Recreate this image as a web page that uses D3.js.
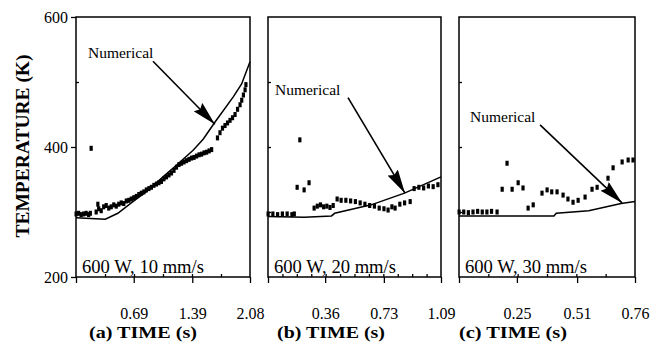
<!DOCTYPE html>
<html lang="en">
<head>
    <meta charset="UTF-8">
    <title>Temperature vs time</title>
    <script src="https://cdn.jsdelivr.net/npm/d3@7"></script>
    <style>
        body { margin: 0; background: #fff; }
        svg text { font-family: "Liberation Serif", "Times New Roman", serif; }
        .axis path { display: none; }
        .axis line { stroke: #000; stroke-width: 1.3; }
        .axis text { font-size: 16px; fill: #000; }
    </style>
</head>
<body>
    <script>
        var serif = "Liberation Serif, Times New Roman, serif";

        // temperature axis
        var tempTicks = [200, 400, 600];
        var tempMinor = [300, 500];

        // time tick labels per panel
        var timeTicksA = [0.69, 1.39, 2.08];
        var timeTicksB = [0.36, 0.73, 1.09];
        var timeTicksC = [0.25, 0.51, 0.76];

        var conditions = ["600 W, 10 mm/s", "600 W, 20 mm/s", "600 W, 30 mm/s"];
        var xTitles = ["(a) TIME (s)", "(b) TIME (s)", "(c) TIME (s)"];

        // numerical curves [time, K]
        var numA = [[0, 291], [0.35, 289], [0.5, 298], [0.68, 316], [0.85, 332], [1.04, 354], [1.2, 372],
            [1.4, 395], [1.52, 412], [1.66, 438], [1.88, 477], [1.98, 497], [2.08, 531]];
        var numB = [[0, 293], [0.23, 292], [0.40, 294], [0.42, 298], [0.65, 311], [0.86, 329], [1.09, 354]];
        var numC = [[0, 294], [0.41, 294], [0.42, 298], [0.56, 302], [0.70, 313], [0.76, 316]];

        // experimental points [time, K]
        var expA = [[0.0, 297], [0.03, 298], [0.06, 296], [0.09, 297], [0.12, 298], [0.15, 296], [0.17, 298],
            [0.18, 398],
            [0.24, 300], [0.26, 312], [0.27, 305], [0.30, 302], [0.33, 308], [0.36, 310], [0.39, 306], [0.42, 308],
            [0.45, 311], [0.48, 309], [0.51, 312], [0.54, 314], [0.57, 313], [0.60, 317], [0.63, 318], [0.66, 320],
            [0.69, 322], [0.72, 324], [0.75, 327], [0.78, 329], [0.81, 331], [0.84, 334], [0.87, 336], [0.90, 338],
            [0.93, 341], [0.96, 343], [0.99, 345], [1.02, 347], [1.05, 351], [1.08, 354], [1.11, 357], [1.14, 360],
            [1.17, 364], [1.20, 369], [1.23, 373], [1.26, 375], [1.29, 377], [1.32, 379], [1.35, 381], [1.38, 383],
            [1.41, 384], [1.44, 386], [1.47, 388], [1.50, 389], [1.53, 391], [1.56, 392], [1.59, 394], [1.62, 396],
            [1.69, 414], [1.72, 422], [1.75, 429], [1.78, 433], [1.81, 437], [1.84, 441], [1.87, 445], [1.90, 450],
            [1.93, 458], [1.96, 465], [1.98, 472], [2.00, 480], [2.02, 488], [2.03, 496]];
        var expB = [[0.0, 297], [0.03, 297], [0.06, 296], [0.09, 297], [0.12, 297], [0.15, 296], [0.165, 297],
            [0.20, 411], [0.183, 338], [0.227, 334], [0.258, 345],
            [0.29, 306], [0.31, 309], [0.33, 311], [0.35, 308], [0.37, 309], [0.39, 307], [0.41, 310], [0.435, 320],
            [0.46, 318], [0.49, 318], [0.52, 317], [0.55, 316], [0.58, 314], [0.61, 312], [0.64, 310], [0.67, 309],
            [0.70, 306], [0.73, 305], [0.756, 303], [0.78, 308], [0.80, 306], [0.83, 312], [0.86, 314], [0.895, 316],
            [0.92, 336], [0.95, 338], [0.98, 337], [1.01, 340], [1.04, 339], [1.07, 342]];
        var expC = [[0.0, 300], [0.02, 300], [0.04, 299], [0.06, 300], [0.08, 301], [0.10, 300], [0.12, 300],
            [0.14, 301], [0.164, 300],
            [0.186, 335], [0.207, 375], [0.229, 335], [0.255, 345], [0.276, 337], [0.298, 306], [0.32, 311],
            [0.358, 329], [0.38, 334], [0.40, 331], [0.423, 331], [0.449, 326], [0.47, 320], [0.492, 315],
            [0.514, 318], [0.544, 323], [0.574, 335], [0.596, 338], [0.643, 352], [0.665, 368], [0.704, 377],
            [0.73, 380], [0.751, 380]];

        // "Numerical" annotation: label anchor, arrow start, arrow tip [time, K]
        var noteA = { label: [0.143, 537], from: [0.92, 532], to: [1.66, 435] };
        var noteB = { label: [0.044, 480], from: [0.504, 476], to: [0.863, 329] };
        var noteC = { label: [0.0475, 438], from: [0.35, 434], to: [0.704, 314] };

        var width = 653, height = 351;
        var plotTop = 17, plotBottom = 277;

        var panels = [
            { x0: 76, x1: 250, tMax: 2.08, ticks: timeTicksA, nMinor: 6, num: numA, exp: expA, note: noteA, titleX: 89 },
            { x0: 268, x1: 441, tMax: 1.09, ticks: timeTicksB, nMinor: 12, num: numB, exp: expB, note: noteB, titleX: 277 },
            { x0: 459, x1: 635, tMax: 0.76, ticks: timeTicksC, nMinor: 6, num: numC, exp: expC, note: noteC, titleX: 459 }
        ];

        var y = d3.scaleLinear().domain([200, 600]).range([plotBottom, plotTop]);

        var svg = d3.select("body").append("svg")
            .attr("width", width)
            .attr("height", height);

        svg.append("defs").append("marker")
            .attr("id", "head")
            .attr("viewBox", "0 0 24 12")
            .attr("refX", 24).attr("refY", 6)
            .attr("markerWidth", 24).attr("markerHeight", 12)
            .attr("markerUnits", "userSpaceOnUse")
            .attr("orient", "auto")
            .append("path")
            .attr("d", "M0,0 L24,6 L0,12 L3,6 Z")
            .attr("fill", "#000");

        // y axis title
        svg.append("text")
            .attr("transform", "translate(29," + ((plotTop + plotBottom) / 2 - 1) + ") rotate(-90)")
            .attr("text-anchor", "middle")
            .attr("font-family", serif)
            .attr("font-size", 18)
            .attr("font-weight", "bold")
            .attr("textLength", 183)
            .attr("lengthAdjust", "spacingAndGlyphs")
            .text("TEMPERATURE (K)");

        panels.forEach(function (p, i) {
            var x = d3.scaleLinear().domain([0, p.tMax]).range([p.x0, p.x1]);
            var g = svg.append("g");

            // left axis (labels only on first panel)
            var yAxis = d3.axisLeft(y).tickValues(tempTicks).tickSize(i === 0 ? 5 : 0).tickSizeOuter(0);
            if (i > 0) yAxis.tickFormat("");
            g.append("g").attr("class", "axis")
                .attr("transform", "translate(" + p.x0 + ",0)")
                .call(yAxis)
                .attr("font-family", serif)
                .attr("font-size", 17);
            g.append("g").attr("class", "axis")
                .attr("transform", "translate(" + p.x0 + ",0)")
                .call(d3.axisLeft(y).tickValues(i === 0 ? tempMinor : [300, 400, 500]).tickSize(-3).tickFormat(""));

            // bottom axis
            var minor = d3.range(1, p.nMinor).map(function (k) { return k * p.tMax / p.nMinor; });
            g.append("g").attr("class", "axis")
                .attr("transform", "translate(0," + plotBottom + ")")
                .call(d3.axisBottom(x).tickValues([0].concat(p.ticks)).tickSize(6).tickSizeOuter(0)
                    .tickFormat(function (d) { return d === 0 ? "" : d3.format(".2f")(d); }))
                .attr("font-family", serif)
                .attr("font-size", 16)
                .selectAll("text").attr("dy", "2.05em");
            g.append("g").attr("class", "axis")
                .attr("transform", "translate(0," + plotBottom + ")")
                .call(d3.axisBottom(x).tickValues(minor).tickSize(-3).tickFormat(""));

            // frame
            g.append("rect")
                .attr("x", p.x0).attr("y", plotTop)
                .attr("width", p.x1 - p.x0).attr("height", plotBottom - plotTop)
                .attr("fill", "none").attr("stroke", "#000").attr("stroke-width", 1.5);

            // numerical curve
            g.append("path")
                .datum(p.num)
                .attr("fill", "none")
                .attr("stroke", "#000")
                .attr("stroke-width", 1.5)
                .attr("d", d3.line().x(function (d) { return x(d[0]); }).y(function (d) { return y(d[1]); }));

            // experimental points
            g.selectAll(".pt")
                .data(p.exp)
                .enter().append("rect")
                .attr("class", "pt")
                .attr("x", function (d) { return x(d[0]) - 1.5; })
                .attr("y", function (d) { return y(d[1]) - 2.5; })
                .attr("width", 3.2)
                .attr("height", 5)
                .attr("fill", "#000");

            // annotation
            g.append("text")
                .attr("x", x(p.note.label[0]))
                .attr("y", y(p.note.label[1]))
                .attr("font-family", serif)
                .attr("font-size", 15.5)
                .text("Numerical");
            g.append("line")
                .attr("x1", x(p.note.from[0])).attr("y1", y(p.note.from[1]))
                .attr("x2", x(p.note.to[0])).attr("y2", y(p.note.to[1]))
                .attr("stroke", "#000").attr("stroke-width", 1.6)
                .attr("marker-end", "url(#head)");

            // condition label
            g.append("text")
                .attr("x", p.x0 + 6)
                .attr("y", plotBottom - 4)
                .attr("font-family", serif)
                .attr("font-size", 18)
                .attr("textLength", 122)
                .attr("lengthAdjust", "spacingAndGlyphs")
                .text(conditions[i]);

            // x title
            g.append("text")
                .attr("x", p.titleX)
                .attr("y", 338)
                .attr("font-family", serif)
                .attr("font-size", 17)
                .attr("font-weight", "bold")
                .attr("textLength", 108)
                .attr("lengthAdjust", "spacingAndGlyphs")
                .text(xTitles[i]);
        });
    </script>
</body>
</html>
